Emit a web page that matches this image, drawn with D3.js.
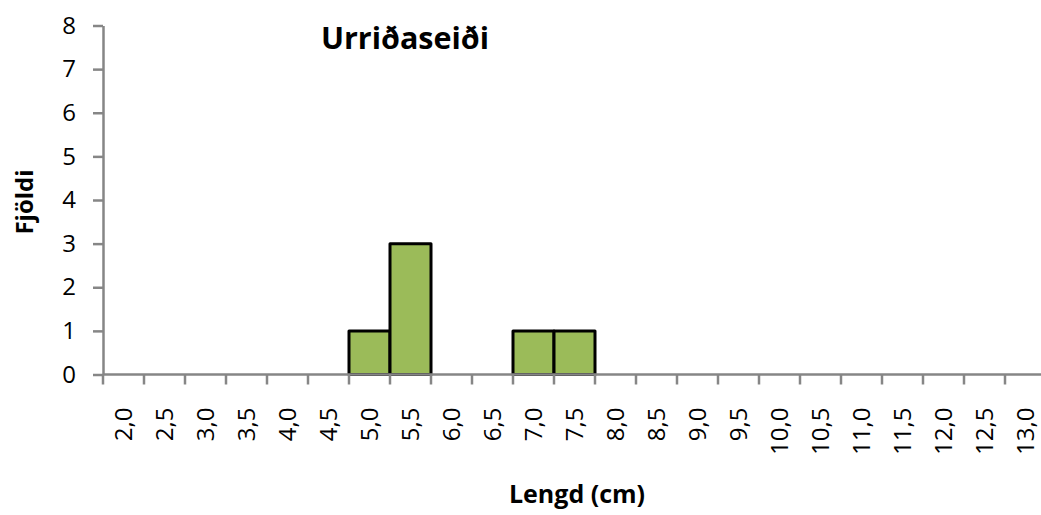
<!DOCTYPE html>
<meta charset="utf-8">
<body style="margin:0;background:#fff">
<script src="https://d3js.org/d3.v7.min.js"></script>
<div id="chart"></div>
<script>
// Data
var categories = ["2,0","2,5","3,0","3,5","4,0","4,5","5,0","5,5","6,0","6,5","7,0","7,5",
                  "8,0","8,5","9,0","9,5","10,0","10,5","11,0","11,5","12,0","12,5","13,0"];
var counts = [0,0,0,0,0,0,1,3,0,0,1,1,0,0,0,0,0,0,0,0,0,0,0];
var yTicks = [0,1,2,3,4,5,6,7,8];

var width = 1041, height = 515;
var font = "'Open Sans', sans-serif";

var svg = d3.select("#chart").append("svg")
    .attr("width", width)
    .attr("height", height)
    .style("display", "block")
    .style("font-family", font);

var x = d3.scaleBand()
    .domain(categories)
    .range([103, 103 + 41 * categories.length])
    .padding(0);

var y = d3.scaleLinear()
    .domain([0, 8])
    .range([374.5, 25.5]);

// bars
svg.selectAll("rect.bar")
    .data(categories.map((c, i) => ({cat: c, v: counts[i]})).filter(d => d.v > 0))
    .join("rect")
    .attr("class", "bar")
    .attr("x", d => x(d.cat))
    .attr("y", d => y(d.v))
    .attr("width", x.bandwidth())
    .attr("height", d => y(0) - y(d.v))
    .attr("fill", "#9BBB59")
    .attr("stroke", "#000")
    .attr("stroke-width", 3)
    .attr("stroke-linejoin", "round");

// y axis
var yAxis = svg.append("g")
    .attr("transform", "translate(103,0)")
    .call(d3.axisLeft(y).tickValues(yTicks).tickSize(10).tickSizeOuter(0).tickPadding(17));
yAxis.select(".domain").attr("stroke", "#868686").attr("stroke-width", 2.5);
yAxis.selectAll(".tick line").attr("stroke", "#868686").attr("stroke-width", 2.5);
yAxis.selectAll("text").style("font-family", font).style("font-size", "24px").attr("fill", "#000");

// x axis: ticks at band boundaries
var xAxis = svg.append("g")
    .attr("transform", "translate(0," + y(0) + ")");
xAxis.append("line")
    .attr("x1", 103).attr("x2", width)
    .attr("stroke", "#868686").attr("stroke-width", 2.5);
xAxis.selectAll("line.tk")
    .data(categories)
    .join("line")
    .attr("class", "tk")
    .attr("x1", d => x(d)).attr("x2", d => x(d))
    .attr("y1", 0).attr("y2", 10)
    .attr("stroke", "#868686").attr("stroke-width", 2.5);
xAxis.selectAll("text")
    .data(categories)
    .join("text")
    .attr("transform", d => "translate(" + (x(d) + x.bandwidth() / 2) + ",33) rotate(-90)")
    .attr("text-anchor", "end")
    .attr("dy", "0.35em")
    .style("font-size", "24px")
    .attr("fill", "#000")
    .text(d => d);

// titles
svg.append("text")
    .attr("x", 405).attr("y", 49)
    .attr("text-anchor", "middle")
    .style("font-size", "30.5px").style("font-weight", "bold")
    .text("Urriðaseiði");

svg.append("text")
    .attr("x", 577).attr("y", 503)
    .attr("text-anchor", "middle")
    .style("font-size", "25px").style("font-weight", "bold")
    .text("Lengd (cm)");

svg.append("text")
    .attr("transform", "translate(33,202) rotate(-90)")
    .attr("text-anchor", "middle")
    .style("font-size", "24px").style("font-weight", "bold")
    .text("Fjöldi");
</script>
</body>
